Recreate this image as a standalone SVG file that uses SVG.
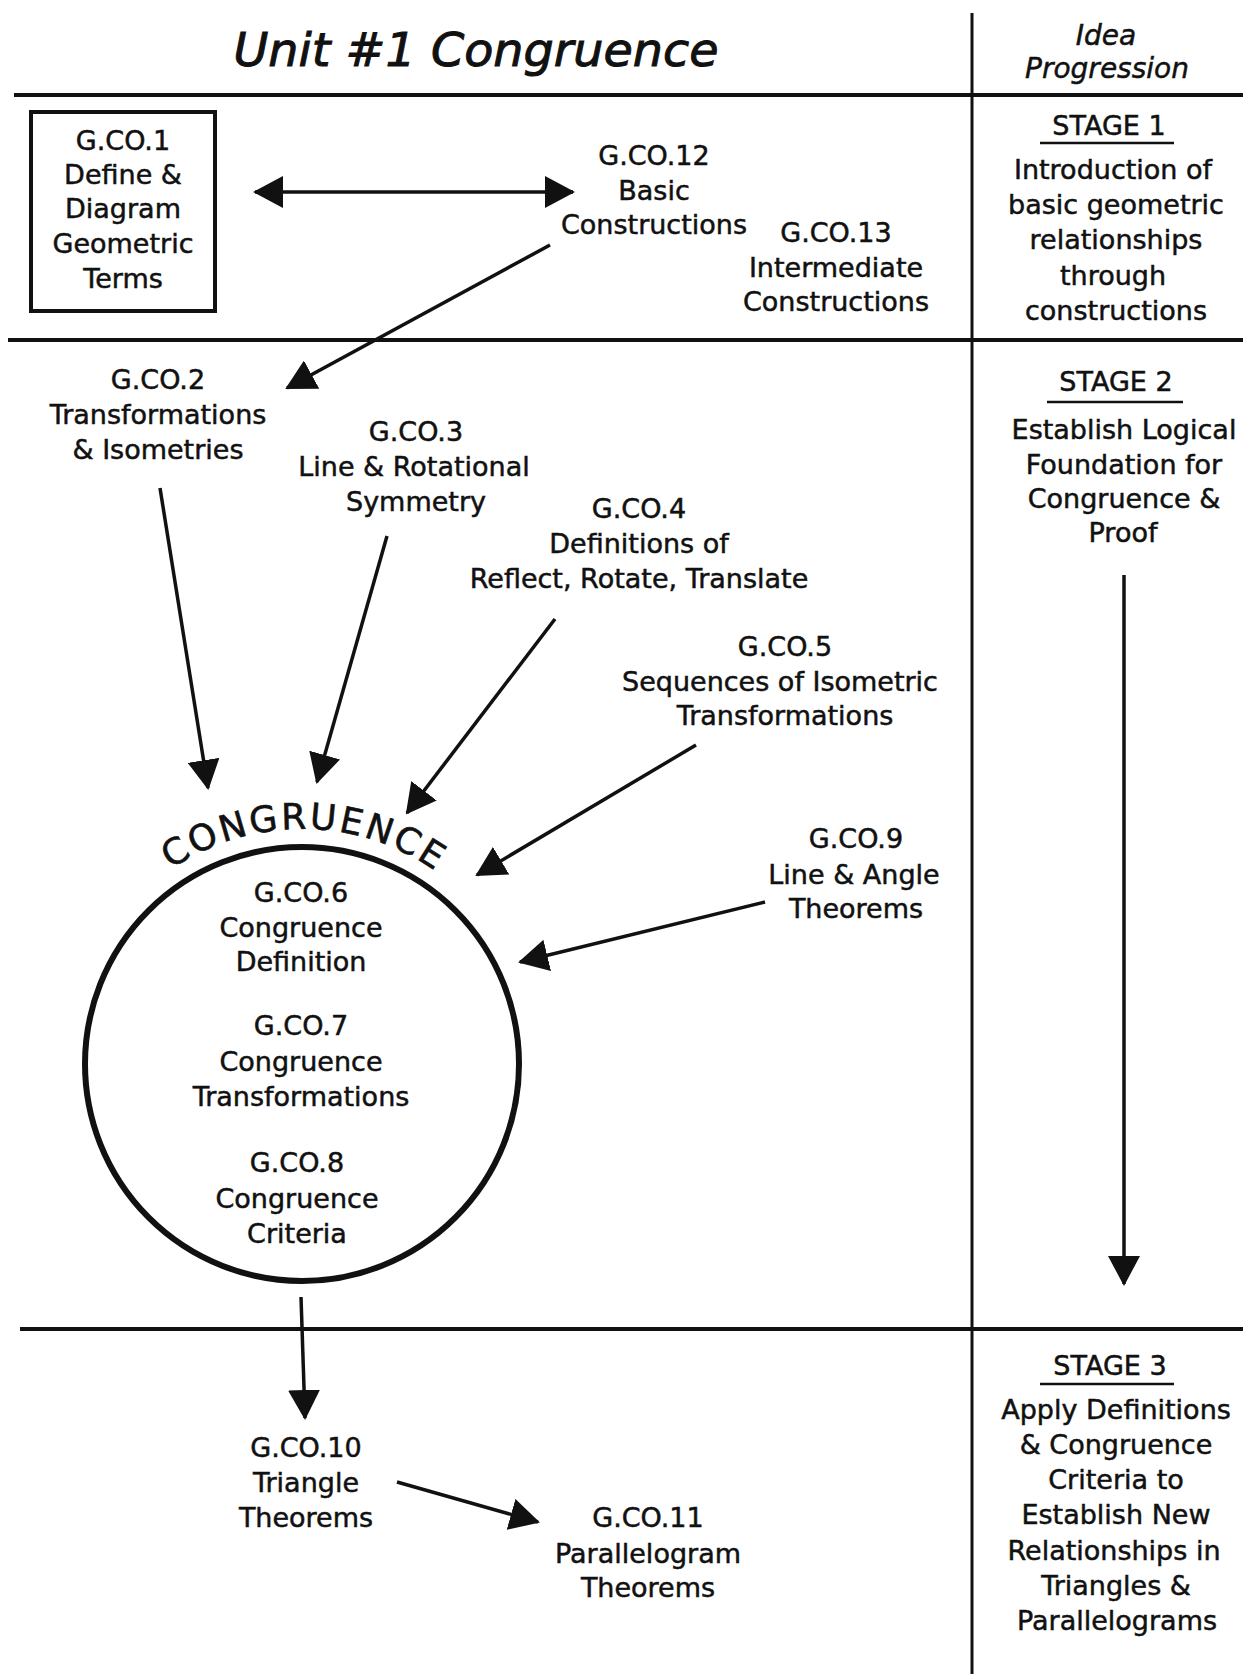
<svg xmlns="http://www.w3.org/2000/svg" width="1243" height="1674" viewBox="0 0 1243 1674">
<style>
  text { font-family: "DejaVu Sans", "Liberation Sans", sans-serif; font-size: 27px; fill: #111; stroke: #111; stroke-width: 0.5px; text-anchor: middle; }
  .title { font-size: 47px; font-style: italic; stroke-width: 1px; }
  .hdr { font-size: 28px; font-style: italic; }
  .cong { font-size: 36px; letter-spacing: 2.6px; stroke-width: 0.6px; }
  .rule { stroke: #111; stroke-width: 4; fill: none; }
  .vrule { stroke: #111; stroke-width: 3; fill: none; }
  .uline { stroke: #111; stroke-width: 2.5; fill: none; }
  .conn { stroke: #111; stroke-width: 3.5; fill: none; marker-end: url(#ah); }
  .box { fill: none; stroke: #111; stroke-width: 4; }
  .circ { fill: none; stroke: #111; stroke-width: 6; }
</style>
<defs>
  <marker id="ah" viewBox="0 0 30 32" refX="28" refY="16" markerWidth="30" markerHeight="32" markerUnits="userSpaceOnUse" orient="auto-start-reverse">
    <path d="M0,0 L30,16 L0,32 z" fill="#111"/>
  </marker>
  <path id="arc" d="M99.6,947.5 A232,232 0 0 1 504.4,947.5"/>
</defs>
<rect width="1243" height="1674" fill="#fff"/>

<g id="grid">
  <line class="rule" x1="14" y1="95" x2="1243" y2="95"/>
  <line class="rule" x1="8" y1="340" x2="1243" y2="340"/>
  <line class="rule" x1="20" y1="1329" x2="1243" y2="1329"/>
  <line class="vrule" x1="972" y1="13" x2="972" y2="1674"/>
</g>

<g id="header">
  <text class="title" x="476" y="66" textLength="485" lengthAdjust="spacingAndGlyphs">Unit #1 Congruence</text>
  <text class="hdr" x="1106" y="45">Idea</text>
  <text class="hdr" x="1107" y="78">Progression</text>
</g>

<g id="connectors">
  <line class="conn" x1="255" y1="192" x2="573" y2="192" style="marker-start:url(#ah)"/>
  <line class="conn" x1="550" y1="245" x2="287" y2="388"/>
  <line class="conn" x1="160" y1="488" x2="208" y2="788"/>
  <line class="conn" x1="387" y1="536" x2="317" y2="782"/>
  <line class="conn" x1="555" y1="619" x2="407" y2="813"/>
  <line class="conn" x1="696" y1="745" x2="477" y2="875"/>
  <line class="conn" x1="765" y1="902" x2="520" y2="962"/>
  <line class="conn" x1="301" y1="1297" x2="305" y2="1418"/>
  <line class="conn" x1="397" y1="1482" x2="538" y2="1522"/>
  <line class="conn" x1="1124" y1="575" x2="1124" y2="1284"/>
</g>

<g id="gco1">
  <rect class="box" x="31" y="112" width="184" height="199"/>
  <text x="123" y="150">G.CO.1</text>
  <text x="123" y="184">Define &amp;</text>
  <text x="123" y="218">Diagram</text>
  <text x="123" y="253">Geometric</text>
  <text x="123" y="288">Terms</text>
</g>

<g id="gco12">
  <text x="654" y="165">G.CO.12</text>
  <text x="654" y="200">Basic</text>
  <text x="654" y="234">Constructions</text>
</g>

<g id="gco13">
  <text x="836" y="242">G.CO.13</text>
  <text x="836" y="277">Intermediate</text>
  <text x="836" y="311">Constructions</text>
</g>

<g id="gco2">
  <text x="158" y="389">G.CO.2</text>
  <text x="158" y="424">Transformations</text>
  <text x="158" y="459">&amp; Isometries</text>
</g>

<g id="gco3">
  <text x="416" y="441">G.CO.3</text>
  <text x="414" y="476">Line &amp; Rotational</text>
  <text x="416" y="511">Symmetry</text>
</g>

<g id="gco4">
  <text x="639" y="518">G.CO.4</text>
  <text x="639" y="553">Definitions of</text>
  <text x="639" y="588">Reflect, Rotate, Translate</text>
</g>

<g id="gco5">
  <text x="785" y="656">G.CO.5</text>
  <text x="780" y="691">Sequences of Isometric</text>
  <text x="785" y="725">Transformations</text>
</g>

<g id="gco9">
  <text x="856" y="848">G.CO.9</text>
  <text x="854" y="884">Line &amp; Angle</text>
  <text x="856" y="918">Theorems</text>
</g>

<g id="congruence">
  <circle class="circ" cx="302" cy="1064" r="217"/>
  <text class="cong"><textPath href="#arc" startOffset="50.5%">CONGRUENCE</textPath></text>
  <text x="301" y="902">G.CO.6</text>
  <text x="301" y="937">Congruence</text>
  <text x="301" y="971">Definition</text>
  <text x="301" y="1035">G.CO.7</text>
  <text x="301" y="1071">Congruence</text>
  <text x="301" y="1106">Transformations</text>
  <text x="297" y="1172">G.CO.8</text>
  <text x="297" y="1208">Congruence</text>
  <text x="297" y="1243">Criteria</text>
</g>

<g id="gco10">
  <text x="306" y="1457">G.CO.10</text>
  <text x="306" y="1492">Triangle</text>
  <text x="306" y="1527">Theorems</text>
</g>

<g id="gco11">
  <text x="648" y="1527">G.CO.11</text>
  <text x="648" y="1563">Parallelogram</text>
  <text x="648" y="1597">Theorems</text>
</g>

<g id="stage1">
  <text x="1109" y="135">STAGE 1</text>
  <line class="uline" x1="1040" y1="143" x2="1174" y2="143"/>
  <text x="1113" y="179">Introduction of</text>
  <text x="1116" y="214">basic geometric</text>
  <text x="1116" y="249">relationships</text>
  <text x="1113" y="285">through</text>
  <text x="1116" y="320">constructions</text>
</g>

<g id="stage2">
  <text x="1116" y="391">STAGE 2</text>
  <line class="uline" x1="1047" y1="402" x2="1183" y2="402"/>
  <text x="1124" y="439">Establish Logical</text>
  <text x="1124" y="474">Foundation for</text>
  <text x="1124" y="508">Congruence &amp;</text>
  <text x="1123" y="542">Proof</text>
</g>

<g id="stage3">
  <text x="1110" y="1375">STAGE 3</text>
  <line class="uline" x1="1040" y1="1384" x2="1174" y2="1384"/>
  <text x="1116" y="1419">Apply Definitions</text>
  <text x="1116" y="1454">&amp; Congruence</text>
  <text x="1116" y="1489">Criteria to</text>
  <text x="1116" y="1524">Establish New</text>
  <text x="1114" y="1560">Relationships in</text>
  <text x="1116" y="1595">Triangles &amp;</text>
  <text x="1117" y="1630">Parallelograms</text>
</g>
</svg>
